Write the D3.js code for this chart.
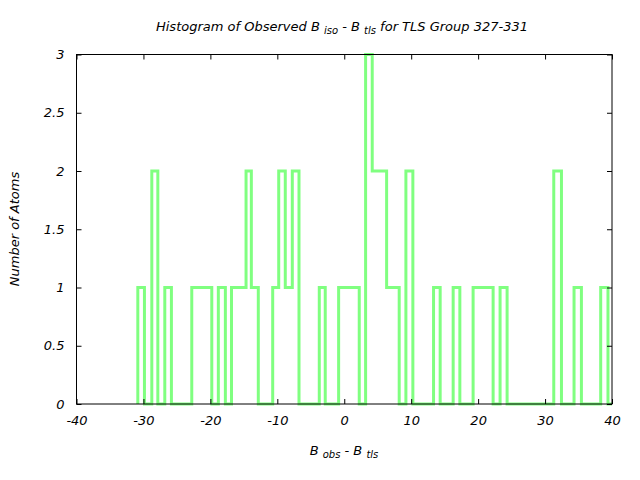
<!DOCTYPE html>
<html><head><meta charset="utf-8">
<script src="https://cdn.jsdelivr.net/npm/d3@7"></script>
<style>body{margin:0;background:#fff}svg text{font-family:"DejaVu Sans",sans-serif;font-style:italic;fill:#000}</style>
</head><body><svg id="c" width="640" height="480"></svg>
<script>
// step edges (bin boundaries where the count changes) and the count in each segment
const edges = [-30.84,-29.85,-28.75,-27.85,-26.81,-25.82,-22.78,-19.79,-18.81,-17.76,-16.84,-14.67,-13.88,-12.84,-10.69,-9.79,-8.81,-7.76,-6.76,-3.73,-2.84,-0.84,2.24,3.19,4.18,6.33,8.21,9.21,10.25,13.34,14.33,16.27,17.27,19.25,22.24,23.28,24.33,31.30,32.45,34.33,35.43,38.31,39.40,40.5];
const counts = [1,0,2,0,1,0,1,0,1,0,1,2,1,0,1,2,1,2,0,1,0,1,0,3,2,1,0,2,0,1,0,1,0,1,0,1,0,2,0,1,0,1,0];
const xTicks = [-40,-30,-20,-10,0,10,20,30,40];
const yTicks = [0,0.5,1,1.5,2,2.5,3];

const svg = d3.select("#c");
const L=76.5, R=612, T=54.5, B=404;
const x = d3.scaleLinear().domain([-40,40]).range([L,R]);
const y = d3.scaleLinear().domain([0,3]).range([B,T]);

svg.append("defs").append("clipPath").attr("id","clip").append("rect")
  .attr("x",L).attr("y",T-3).attr("width",R-L).attr("height",B-T+6);

// histogram steps
const pts = [[edges[0],0]];
counts.forEach((c,i)=>{ pts.push([edges[i],c]); pts.push([edges[i+1],c]); });
const line = d3.line().x(d=>x(d[0])).y(d=>y(d[1]));
svg.append("path").attr("d",line(pts)).attr("fill","none")
  .attr("stroke","#80ff80").attr("stroke-width",3).attr("stroke-linejoin","miter")
  .attr("clip-path","url(#clip)");

// axes
const tl=5;
const gx = svg.append("g").attr("transform",`translate(0,${B})`)
  .call(d3.axisBottom(x).tickValues(xTicks).tickSize(-tl).tickPadding(12).tickFormat(d3.format("d")));
const gxt = svg.append("g").attr("transform",`translate(0,${T})`)
  .call(d3.axisTop(x).tickValues(xTicks).tickSize(-tl).tickFormat(""));
const gy = svg.append("g").attr("transform",`translate(${L},0)`)
  .call(d3.axisLeft(y).tickValues(yTicks).tickSize(-tl).tickPadding(12).tickFormat(d=>String(d)));
const gyr = svg.append("g").attr("transform",`translate(${R},0)`)
  .call(d3.axisRight(y).tickValues(yTicks).tickSize(-tl).tickFormat(""));
[gx,gxt,gy,gyr].forEach(g=>{
  g.select(".domain").remove();
  g.selectAll("line").attr("stroke","#000");
  g.selectAll("text").attr("font-size",13).style("font-family",'"DejaVu Sans",sans-serif').style("font-style","italic");
});
gx.selectAll("text").text(d=>d<0?"-"+Math.abs(d):d);
gx.selectAll("text").attr("dy","0.71em");
svg.append("rect").attr("x",L).attr("y",T).attr("width",R-L).attr("height",B-T)
  .attr("fill","none").attr("stroke","#000").attr("stroke-width",1);

// title
const title = svg.append("text").attr("x",342).attr("y",31).attr("text-anchor","middle").attr("font-size",13);
title.append("tspan").text("Histogram of Observed B ");
title.append("tspan").attr("font-size",10).attr("dy",3).text("iso");
title.append("tspan").attr("dy",-3).text(" - B ");
title.append("tspan").attr("font-size",10).attr("dy",3).text("tls");
title.append("tspan").attr("dy",-3).text(" for TLS Group 327-331");

// x label
const xl = svg.append("text").attr("x",344).attr("y",455).attr("text-anchor","middle").attr("font-size",13);
xl.append("tspan").text("B ");
xl.append("tspan").attr("font-size",10).attr("dy",3).text("obs");
xl.append("tspan").attr("dy",-3).text(" - B ");
xl.append("tspan").attr("font-size",10).attr("dy",3).text("tls");

// y label
svg.append("text").attr("transform","translate(19,229) rotate(-90)").attr("text-anchor","middle")
  .attr("font-size",13).text("Number of Atoms");
</script></body></html>
